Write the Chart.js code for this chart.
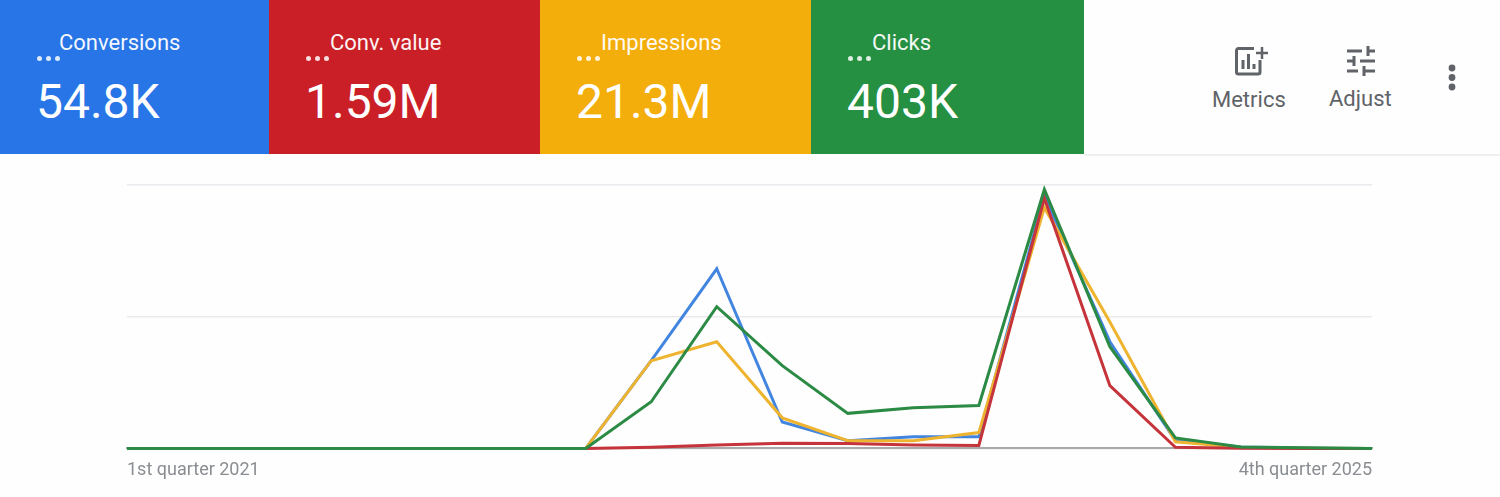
<!DOCTYPE html>
<html>
<head>
<meta charset="utf-8">
<title>Performance overview</title>
<script src="https://cdn.jsdelivr.net/npm/chart.js@4"></script>
<style>
  html, body { margin: 0; padding: 0; background: #fefefe; }
  body { width: 1500px; height: 497px; position: relative; overflow: hidden; font-family: Roboto, sans-serif; }
  .tile { position: absolute; top: 0; height: 154px; color: #fff; }
  .tile .name { position: absolute; top: 31px; font-size: 22px; line-height: 24px; white-space: nowrap; opacity: .95; }
  .tile .dots { position: absolute; top: 56px; display: flex; gap: 4px; }
  .tile .dots i { width: 5px; height: 5px; border-radius: 50%; background: #fff; opacity: .85; }
  .tile .num { position: absolute; top: 75px; font-size: 48px; line-height: 54px; white-space: nowrap; }
  .rule { position: absolute; left: 1084px; right: 0; top: 154px; height: 2px; background: #efefef; }
  .tool { position: absolute; color: #606368; font-size: 22px; line-height: 24px; text-align: center; }
  #chartBox { position: absolute; left: 0; top: 156px; width: 1500px; height: 341px; }
</style>
</head>
<body>
<div id="tiles"></div>
<div class="rule"></div>

<div class="tool" style="left:1212px;top:88px;">Metrics</div>
<svg style="position:absolute;left:1233px;top:45px" width="36" height="34" viewBox="0 0 36 34" fill="none" stroke="#606368" stroke-width="3">
  <path d="M21 3.500H5.500a2 2 0 0 0-2 2V27a2 2 0 0 0 2 2H25a2 2 0 0 0 2-2V15"/>
  <path d="M10 24V15M15.500 24V9M21 24v-5"/>
  <path d="M29 2v12M23 8h12" stroke-width="2.500"/>
</svg>

<div class="tool" style="left:1329px;top:87px;">Adjust</div>
<svg style="position:absolute;left:1346px;top:46px" width="30" height="30" viewBox="0 0 30 30" fill="none" stroke="#606368" stroke-width="3">
  <path d="M1 5h15M22 5h7M22 0v10M1 15h7M14 15h15M8 10v10M1 25h11M18 25h11M18 20v10"/>
</svg>

<svg style="position:absolute;left:1447px;top:64px" width="10" height="28" viewBox="0 0 10 28" fill="#606368">
  <circle cx="5" cy="4" r="3.400"/><circle cx="5" cy="13.500" r="3.400"/><circle cx="5" cy="23" r="3.400"/>
</svg>

<div id="chartBox"><canvas id="myChart"></canvas></div>

<script>
const quarters = [
  '1st quarter 2021', '2nd quarter 2021', '3rd quarter 2021', '4th quarter 2021',
  '1st quarter 2022', '2nd quarter 2022', '3rd quarter 2022', '4th quarter 2022',
  '1st quarter 2023', '2nd quarter 2023', '3rd quarter 2023', '4th quarter 2023',
  '1st quarter 2024', '2nd quarter 2024', '3rd quarter 2024', '4th quarter 2024',
  '1st quarter 2025', '2nd quarter 2025', '3rd quarter 2025', '4th quarter 2025'
];
// scaled so the top gridline is 100
const conversions = [0, 0, 0, 0, 0, 0, 0, 0, 33.3, 68.2, 10, 2.9, 4.4, 4.4, 96, 40.5, 3, 0.5, 0.1, 0];
const convValue   = [0, 0, 0, 0, 0, 0, 0, 0, 0.4, 1.3, 2, 1.9, 1.3, 1.1, 95, 23.8, 0.4, 0.1, 0, 0];
const impressions = [0, 0, 0, 0, 0, 0, 0, 0, 33.3, 40.5, 11.6, 2.9, 2.9, 6, 91.4, 48, 2.5, 0.4, 0.1, 0];
const clicks      = [0, 0, 0, 0, 0, 0, 0, 0, 17.7, 53.8, 31.4, 13.3, 15.4, 16.3, 98.3, 38.6, 4, 0.5, 0.2, 0];

const tileNames  = ['Conversions', 'Conv. value', 'Impressions', 'Clicks'];
const tileTotals = ['54.8K', '1.59M', '21.3M', '403K'];
const tileColors = ['#2775e6', '#cb1f27', '#f4ae0c', '#258f42'];
const tileEdges  = [0, 269, 540, 811, 1084];

const tilesEl = document.getElementById('tiles');
tileNames.forEach(function(name, i) {
  const tile = document.createElement('div');
  tile.className = 'tile';
  tile.style.left = tileEdges[i] + 'px';
  tile.style.width = (tileEdges[i + 1] - tileEdges[i]) + 'px';
  tile.style.background = tileColors[i];
  tile.innerHTML = '<div class="name" style="left:' + (i === 0 ? 59 : 61) + 'px">' + name + '</div>' +
    '<div class="dots" style="left:37px"><i></i><i></i><i></i></div>' +
    '<div class="num" style="left:36px">' + tileTotals[i] + '</div>';
  tilesEl.appendChild(tile);
});

function line(label, data, color) {
  return {
    label: label,
    data: data,
    borderColor: color,
    borderWidth: 3,
    pointRadius: 0,
    tension: 0,
    clip: false
  };
}

new Chart(document.getElementById('myChart'), {
  type: 'line',
  data: {
    labels: quarters,
    // first dataset is painted last, so clicks ends up on top
    datasets: [
      line('Clicks', clicks, '#2b8a44'),
      line('Conv. value', convValue, '#c5343a'),
      line('Impressions', impressions, '#eeb430'),
      line('Conversions', conversions, '#4285e0')
    ]
  },
  options: {
    responsive: true,
    maintainAspectRatio: false,
    animation: false,
    layout: { padding: { left: 127, right: 128, top: 29, bottom: 13 } },
    plugins: { legend: { display: false }, tooltip: { enabled: false } },
    scales: {
      x: {
        offset: false,
        grid: { display: false },
        border: { color: '#a9a9a9', width: 2 },
        ticks: {
          autoSkip: false,
          maxRotation: 0,
          align: 'inner',
          padding: 3,
          color: '#8a8d91',
          font: { family: 'Roboto', size: 18 },
          callback: function(value, index) {
            return index === 0 || index === quarters.length - 1 ? quarters[index] : '';
          }
        }
      },
      y: {
        min: 0,
        max: 100,
        afterFit: function(scale) { scale.width = 0; },
        border: { display: false },
        grid: { color: '#e9e9ee', lineWidth: 1.5, drawTicks: false },
        ticks: { display: false, stepSize: 50 }
      }
    }
  }
});
</script>
</body>
</html>
